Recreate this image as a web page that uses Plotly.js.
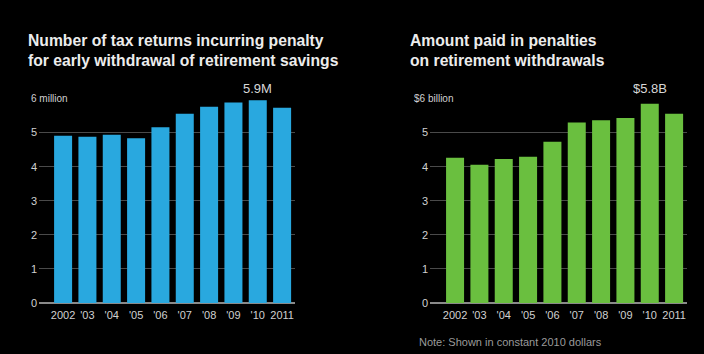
<!DOCTYPE html>
<html><head><meta charset="utf-8">
<script src="https://cdn.plot.ly/plotly-3.0.1.min.js"></script>
<style>html,body{margin:0;padding:0;background:#000;}#chart{width:704px;height:354px;}</style>
</head><body><div id="chart"></div>
<script>
const years = ['2002', "'03", "'04", "'05", "'06", "'07", "'08", "'09", "'10", '2011'];
const returnsMillions = [4.90, 4.87, 4.93, 4.83, 5.15, 5.55, 5.75, 5.88, 5.94, 5.72];
const penaltiesBillions = [4.26, 4.05, 4.22, 4.29, 4.73, 5.29, 5.36, 5.42, 5.84, 5.55];
const yTicks = [0, 1, 2, 3, 4, 5];
const leftTopLabel = '6 million';
const rightTopLabel = '$6 billion';
const leftTitle = 'Number of tax returns incurring penalty<br>for early withdrawal of retirement savings';
const rightTitle = 'Amount paid in penalties<br>on retirement withdrawals';
const leftCallout = '5.9M';
const rightCallout = '$5.8B';
const note = 'Note: Shown in constant 2010 dollars';

const W = 704, H = 354;
const idx = years.map((_, i) => i);
const FONT = 'Liberation Sans, Arial, Helvetica, sans-serif';

const traces = [
  {type: 'bar', x: idx, y: returnsMillions, xaxis: 'x', yaxis: 'y',
   marker: {color: '#29a8df'}, hoverinfo: 'skip'},
  {type: 'bar', x: idx, y: penaltiesBillions, xaxis: 'x2', yaxis: 'y2',
   marker: {color: '#6abf3f'}, hoverinfo: 'skip'}
];

function xax(domain, left) {
  return {domain: domain, range: [left, 9.53], tickvals: idx, ticktext: years,
    showgrid: false, zeroline: false, showline: false, ticks: '', fixedrange: true,
    ticklabelstandoff: 4,
    tickfont: {family: FONT, size: 11, color: '#d0d0d0'}};
}
function yax(anchor) {
  return {domain: [51 / H, (H - 98.3) / H], range: [0, 6], anchor: anchor,
    tickvals: yTicks.concat([6]), showticklabels: false, showgrid: true,
    gridcolor: '#4a4a4a', gridwidth: 1, zeroline: true, zerolinecolor: '#8a8a8a',
    zerolinewidth: 2, fixedrange: true};
}

const annotations = [];
function tickAnns(xpx, yref, topLabel, topXpx) {
  yTicks.forEach(v => annotations.push({xref: 'paper', yref: yref, x: xpx / W, y: v,
    text: String(v), showarrow: false, xanchor: 'left', yanchor: 'middle',
    font: {family: FONT, size: 11, color: '#d0d0d0'}}));
  annotations.push({xref: 'paper', yref: yref, x: topXpx / W, y: 6, text: topLabel,
    showarrow: false, xanchor: 'left', yanchor: 'middle', bgcolor: '#000', borderpad: 4,
    font: {family: FONT, size: 10, color: '#d0d0d0'}});
}
tickAnns(29, 'y', leftTopLabel, 26);
tickAnns(420, 'y2', rightTopLabel, 409);

annotations.push({xref: 'paper', yref: 'paper', x: 26 / W, y: 1 - 30 / H, text: leftTitle,
  showarrow: false, xanchor: 'left', yanchor: 'top', align: 'left',
  font: {family: FONT, size: 15.7, color: '#ececec', weight: 'bold'}});
annotations.push({xref: 'paper', yref: 'paper', x: 408 / W, y: 1 - 30 / H, text: rightTitle,
  showarrow: false, xanchor: 'left', yanchor: 'top', align: 'left',
  font: {family: FONT, size: 15.7, color: '#ececec', weight: 'bold'}});
annotations.push({xref: 'x', yref: 'y', x: 8, y: 6, text: leftCallout, showarrow: false,
  yanchor: 'bottom', yshift: 0, font: {family: FONT, size: 13, color: '#d8d8d8'}});
annotations.push({xref: 'x2', yref: 'y2', x: 8, y: 6, text: rightCallout, showarrow: false,
  yanchor: 'bottom', yshift: 0, font: {family: FONT, size: 13, color: '#d8d8d8'}});
annotations.push({xref: 'paper', yref: 'paper', x: 417 / W, y: 1 - 342 / H, text: note,
  showarrow: false, xanchor: 'left', yanchor: 'middle',
  font: {family: FONT, size: 11, color: '#9a9a9a'}});

const layout = {
  width: W, height: H, margin: {l: 0, r: 0, t: 0, b: 0},
  paper_bgcolor: '#000', plot_bgcolor: '#000', showlegend: false, bargap: 0.26,
  xaxis: xax([39 / W, 295 / W], -0.99),
  yaxis: yax('x'),
  xaxis2: xax([430 / W, 687 / W], -1.03),
  yaxis2: yax('x2'),
  annotations: annotations
};
Plotly.newPlot('chart', traces, layout, {staticPlot: true, displayModeBar: false});
</script></body></html>
